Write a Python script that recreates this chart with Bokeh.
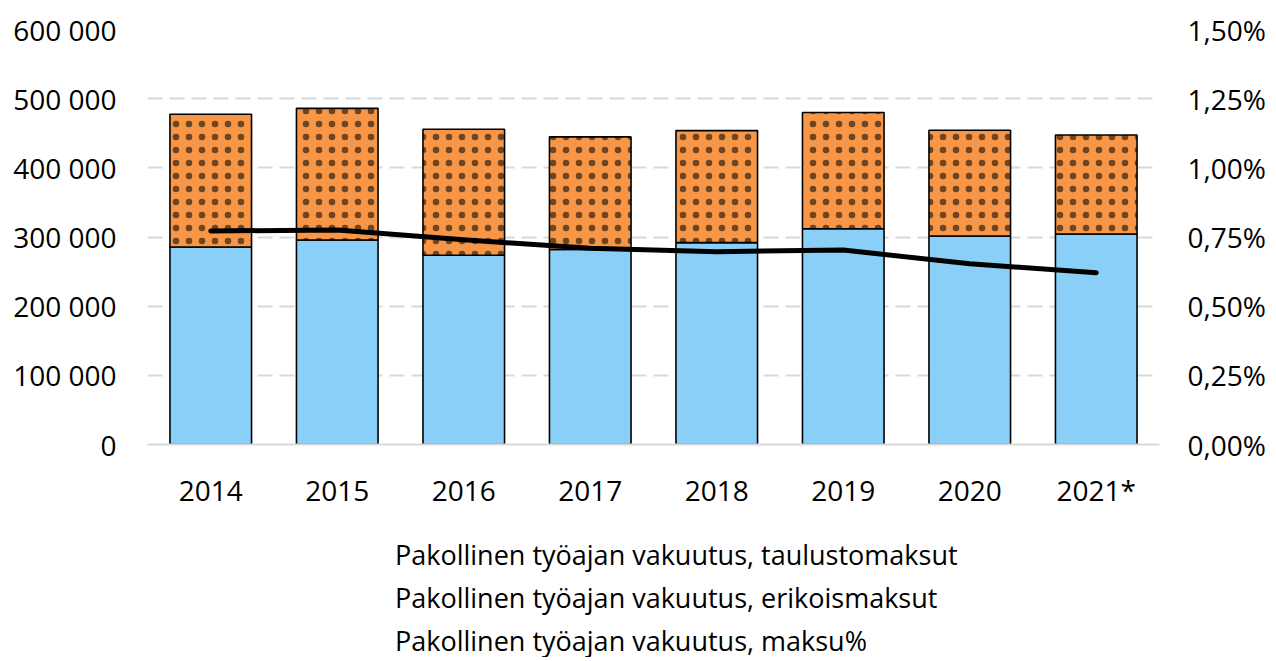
from bokeh.plotting import figure
from bokeh.layouts import column
from bokeh.models import (FactorRange, Range1d, LinearAxis, CustomJSTickFormatter,
                          FixedTicker, Legend, LegendItem, ColumnDataSource,
                          CDSView, IndexFilter)
from bokeh.embed import file_html
from bokeh.resources import INLINE

years = ["2014", "2015", "2016", "2017", "2018", "2019", "2020", "2021*"]
erikoismaksut = [285500, 295700, 273600, 282000, 291800, 312000, 301400, 304300]
taulustomaksut = [191900, 190300, 182200, 162700, 162000, 168000, 152900, 143200]
maksu_pct = [0.772, 0.775, 0.740, 0.709, 0.697, 0.703, 0.653, 0.621]

left_ticks = [0, 100000, 200000, 300000, 400000, 500000, 600000]
right_ticks = [0, 0.25, 0.5, 0.75, 1.0, 1.25, 1.5]
labels = ["Pakollinen työajan vakuutus, taulustomaksut",
          "Pakollinen työajan vakuutus, erikoismaksut",
          "Pakollinen työajan vakuutus, maksu%"]

FONT = "Open Sans"
ORANGE = "#F79646"
BLUE = "#89CFF7"
GRID = "#d9d9d9"

src = ColumnDataSource(dict(
    year=years,
    erikois=erikoismaksut,
    total=[a + b for a, b in zip(erikoismaksut, taulustomaksut)],
    zero=[0] * len(years),
    pct=maksu_pct,
))

bar_style = dict(width=0.645, line_color="black", line_width=1.6)
blue_style = dict(fill_color=BLUE, **bar_style)
orange_style = dict(fill_color=ORANGE, hatch_pattern="dot", hatch_color="black",
                    hatch_scale=13, hatch_weight=0.5, hatch_alpha=0.55, **bar_style)
line_style = dict(line_color="black", line_width=5, line_cap="round", line_join="round")

W = 1268
p = figure(x_range=FactorRange(*years), y_range=Range1d(0, 600000),
           width=W, height=511,
           output_backend="svg", toolbar_location=None,
           min_border_left=147, min_border_right=106, min_border_top=29,
           min_border_bottom=0)
p.extra_y_ranges = {"pct": Range1d(0, 1.5)}

p.vbar(x="year", bottom="zero", top="erikois", source=src, **blue_style)
p.vbar(x="year", bottom="erikois", top="total", source=src, **orange_style)
p.line(x="year", y="pct", source=src, y_range_name="pct", **line_style)

def style_axis(ax, standoff):
    ax.axis_line_color = None
    ax.major_tick_line_color = None
    ax.minor_tick_line_color = None
    ax.major_tick_out = 0
    ax.major_tick_in = 0
    ax.minor_tick_out = 0
    ax.minor_tick_in = 0
    ax.major_label_standoff = standoff
    ax.major_label_text_font = FONT
    ax.major_label_text_font_size = "28px"
    ax.major_label_text_color = "black"

ya = p.yaxis[0]
ya.ticker = FixedTicker(ticks=left_ticks)
ya.formatter = CustomJSTickFormatter(code="""
return Math.round(tick).toString().replace(/\\B(?=(\\d{3})+(?!\\d))/g, ' ');
""")
style_axis(ya, 31)

ra = LinearAxis(y_range_name="pct", ticker=FixedTicker(ticks=right_ticks))
ra.formatter = CustomJSTickFormatter(code="""
return tick.toFixed(2).replace('.', ',') + '%';
""")
style_axis(ra, 28)
p.add_layout(ra, "right")

xa = p.xaxis[0]
style_axis(xa, 26)
xa.axis_line_color = GRID
xa.axis_line_width = 2

p.xgrid.grid_line_color = None
p.ygrid.ticker = FixedTicker(ticks=left_ticks)
p.ygrid.grid_line_color = GRID
p.ygrid.grid_line_width = 2
p.ygrid.grid_line_dash = "15 7"
p.outline_line_color = None

# legend strip below the chart; its renderers draw nothing (empty view)
pl = figure(x_range=FactorRange(*years), y_range=Range1d(0, 1),
            width=W, height=146, output_backend="svg", toolbar_location=None,
            x_axis_location=None, y_axis_location=None,
            min_border_left=147, min_border_right=106, min_border_top=0,
            min_border_bottom=0)
pl.extra_y_ranges = {"pct": Range1d(0, 1)}
pl.grid.grid_line_color = None
pl.outline_line_color = None
empty = CDSView(filter=IndexFilter(indices=[]))
lb = pl.vbar(x="year", bottom="zero", top="erikois", source=src, view=empty, **blue_style)
lo = pl.vbar(x="year", bottom="erikois", top="total", source=src, view=empty, **orange_style)
ll = pl.line(x="year", y="pct", source=src, y_range_name="pct", view=empty, **line_style)

legend = Legend(items=[
    LegendItem(label=labels[0], renderers=[lo]),
    LegendItem(label=labels[1], renderers=[lb]),
    LegendItem(label=labels[2], renderers=[ll]),
], location=(191, -2), orientation="vertical")
legend.label_text_font = FONT
legend.label_text_font_size = "27px"
legend.label_text_color = "black"
legend.glyph_width = 52
legend.glyph_height = 18
legend.label_standoff = 5
legend.spacing = 6
legend.padding = 0
legend.margin = 0
legend.border_line_color = None
legend.background_fill_alpha = 0
pl.add_layout(legend, "center")

open("out.html", "w").write(file_html(column(p, pl, spacing=0), INLINE))
